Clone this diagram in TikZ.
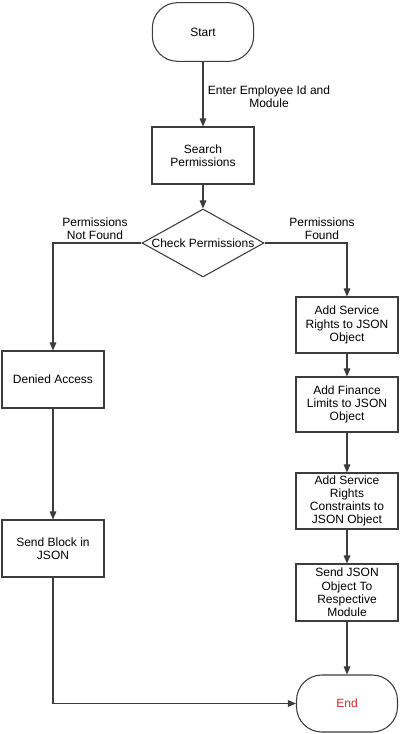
\documentclass[tikz,border=0pt]{standalone}
\usepackage{fontspec}
\setmainfont{Liberation Sans}
\usetikzlibrary{arrows.meta,shapes.geometric}
\definecolor{linec}{RGB}{60,60,60}
\definecolor{endred}{RGB}{225,35,35}
\tikzset{
  x=0.75pt,y=-0.75pt,
  every node/.style={font=\fontsize{9pt}{9.9pt}\selectfont, align=center, text=black},
  term/.style={draw=linec, line width=0.8pt, rounded corners=19pt, minimum width=76pt, minimum height=44pt, inner sep=0pt},
  procbox/.style={draw=linec, line width=0.8pt, minimum width=76.5pt, minimum height=42pt, inner sep=0pt},
  decide/.style={draw=linec, line width=0.8pt, shape=diamond, inner sep=0pt, minimum width=91.5pt, minimum height=51pt},
  conn/.style={draw=linec, line width=0.8pt, -{Triangle[length=6pt,width=5pt]}},
  elabel/.style={inner sep=0pt}
}
\begin{document}
\begin{tikzpicture}
\useasboundingbox (0,0) rectangle (400,734);
\node[term] (start) at (203,32) {Start};
\node[procbox, minimum height=42.75pt] (search) at (203,155.5) {Search\\Permissions};
\node[decide] (check) at (203,243) {\makebox[0pt]{Check Permissions}};
\node[procbox, minimum height=42.75pt] (dn) at (53,379.5) {Denied Access};
\node[procbox, minimum height=42.75pt] (sb) at (53,548.5) {Send Block in\\JSON};
\node[procbox] (a1) at (347,325) {Add Service\\Rights to JSON\\Object};
\node[procbox, minimum height=41.25pt] (a2) at (347,404.5) {Add Finance\\Limits to JSON\\Object};
\node[procbox] (a3) at (347,501) {Add Service\\Rights\\Constraints to\\JSON Object};
\node[procbox, minimum height=42.75pt] (a4) at (347,592.5) {Send JSON\\Object To\\Respective\\Module};
\node[term, minimum width=75.75pt, minimum height=42.75pt, text=endred] (end) at (347,703.5) {End};

\node[elabel] (lbl1) at (269,97) {Enter Employee Id and\\Module};
\node[elabel] (lbl2) at (95,229) {Permissions\\Not Found};
\node[elabel] (lbl3) at (322,229) {Permissions\\Found};

\draw[conn] (start.south) -- (search.north);
\draw[conn] (search.south) -- (check.north);
\draw[conn] (check.west) -| (dn.north);
\draw[conn] (check.east) -| (a1.north);
\draw[conn] (dn.south) -- (sb.north);
\draw[conn] (sb.south) |- (end.west);
\draw[conn] (a1.south) -- (a2.north);
\draw[conn] (a2.south) -- (a3.north);
\draw[conn] (a3.south) -- (a4.north);
\draw[conn] (a4.south) -- (end.north);
\end{tikzpicture}
\end{document}
